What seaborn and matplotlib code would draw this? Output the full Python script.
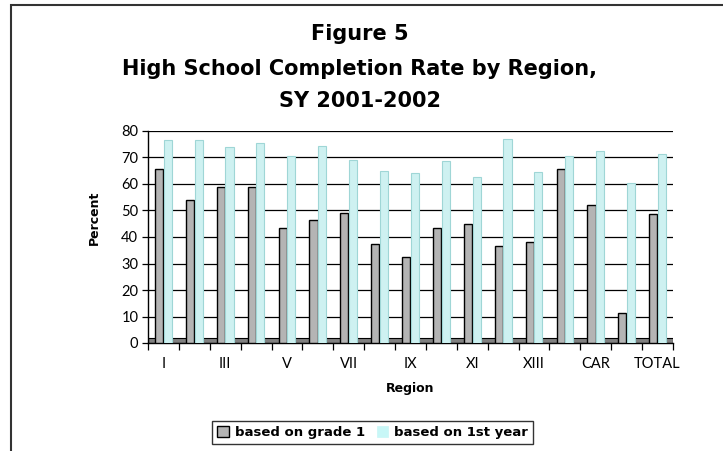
import numpy as np
import pandas as pd
import matplotlib
matplotlib.use("Agg")
import matplotlib.pyplot as plt
from matplotlib.patches import Rectangle, Patch
import seaborn as sns

# Regional completion rates, SY 2001-2002
regions = ["I", "II", "III", "IV", "V", "VI", "VII", "VIII", "IX", "X",
           "XI", "XII", "XIII", "NCR", "CAR", "ARMM", "TOTAL"]
grade1 = [65.5, 54, 59, 59, 43.5, 46.5, 49, 37.5, 32.5, 43.5,
          45, 36.5, 38, 65.5, 52, 11.5, 48.5]
first_year = [76.5, 76.5, 74, 75.5, 70.5, 74.5, 69, 65, 64, 68.5,
              62.5, 77, 64.5, 70.5, 72.5, 60.5, 71.5]
series_names = ["based on grade 1", "based on 1st year"]
yticks = list(range(0, 90, 10))

df = pd.DataFrame({
    "Region": regions * 2,
    "Percent": grade1 + first_year,
    "Series": [series_names[0]] * len(regions) + [series_names[1]] * len(regions),
})

sns.set_theme(style="white")
plt.rcParams["font.family"] = ["DejaVu Sans"]
plt.rcParams["text.color"] = "black"
plt.rcParams["axes.labelcolor"] = "black"
plt.rcParams["xtick.color"] = "black"
plt.rcParams["ytick.color"] = "black"

GRAY = "#b4b4b4"
CYAN = "#c8f7f7"

fig = plt.figure(figsize=(7.23, 4.51), dpi=100)
ax = fig.add_axes([148 / 723, 1 - 343 / 451, (673 - 148) / 723, (343 - 131) / 451])

sns.barplot(data=df, x="Region", y="Percent", hue="Series", order=regions,
            hue_order=series_names, palette=[GRAY, CYAN], width=0.56, gap=0.06,
            ax=ax, legend=False, zorder=3)

# bar edges: dark outline for the grey series, soft teal for the cyan series
for i, cont in enumerate(ax.containers):
    for bar in cont:
        if i == 0:
            bar.set_edgecolor("black")
            bar.set_linewidth(1.0)
        else:
            bar.set_edgecolor("#9fd6d6")
            bar.set_linewidth(0.8)

# floor of the chart
ax.axhspan(0, 1.8, facecolor="#808080", edgecolor="black", linewidth=0.8, zorder=2)

ax.set_ylim(0, 80)
ax.set_xlim(-0.5, len(regions) - 0.5)
ax.set_yticks(yticks)
ax.set_yticklabels([str(t) for t in yticks], fontfamily="Lato", fontsize=10.5)
for y in yticks[1:]:
    ax.axhline(y, color="black", linewidth=0.9, zorder=1)

ax.set_xticks(range(0, len(regions), 2))
ax.set_xticklabels(regions[::2], fontfamily="Lato", fontsize=10.5)
ax.set_xticks(np.arange(-0.5, len(regions), 1), minor=True)
ax.tick_params(axis="x", which="major", length=0, pad=10)
ax.tick_params(axis="x", which="minor", length=5, width=0.9, color="black", bottom=True)
ax.tick_params(axis="y", length=4, width=0.9, color="black", left=True, pad=3)

for side in ["top", "right"]:
    ax.spines[side].set_visible(False)
ax.spines["left"].set_color("black")
ax.spines["left"].set_linewidth(1.0)
ax.spines["bottom"].set_color("black")
ax.spines["bottom"].set_linewidth(1.0)
ax.set_facecolor("white")

ax.set_xlabel("Region", fontsize=9, fontweight="bold", labelpad=8)
ax.set_ylabel("Percent", fontsize=9, fontweight="bold")
ax.yaxis.set_label_coords(-0.09, 0.59)

# titles
title_kw = dict(ha="center", va="center", fontsize=15, fontweight="bold")
fig.text(360 / 723, 1 - 34 / 451, "Figure 5", **title_kw)
fig.text(360 / 723, 1 - 69 / 451, "High School Completion Rate by Region,", **title_kw)
fig.text(360 / 723, 1 - 101 / 451, "SY 2001-2002", **title_kw)

# legend
handles = [Patch(facecolor=GRAY, edgecolor="black", linewidth=1.0),
           Patch(facecolor=CYAN, edgecolor=CYAN, linewidth=0.5)]
leg = fig.legend(handles, series_names, loc="center",
                 bbox_to_anchor=(372.5 / 723, 1 - 432.5 / 451), ncol=2,
                 frameon=True, fancybox=False, edgecolor="black",
                 prop={"weight": "bold", "size": 9.5}, handlelength=0.9,
                 handleheight=0.9, handletextpad=0.4, columnspacing=0.9,
                 borderpad=0.4, borderaxespad=0)
leg.get_frame().set_linewidth(1.0)

# outer frame of the figure panel
fig.patches.append(Rectangle((11 / 723, -0.1), 1.2, 1 - 5 / 451 + 0.1,
                             transform=fig.transFigure, fill=False,
                             edgecolor="#333333", linewidth=1.5))

fig.savefig("out.png", dpi=100)
